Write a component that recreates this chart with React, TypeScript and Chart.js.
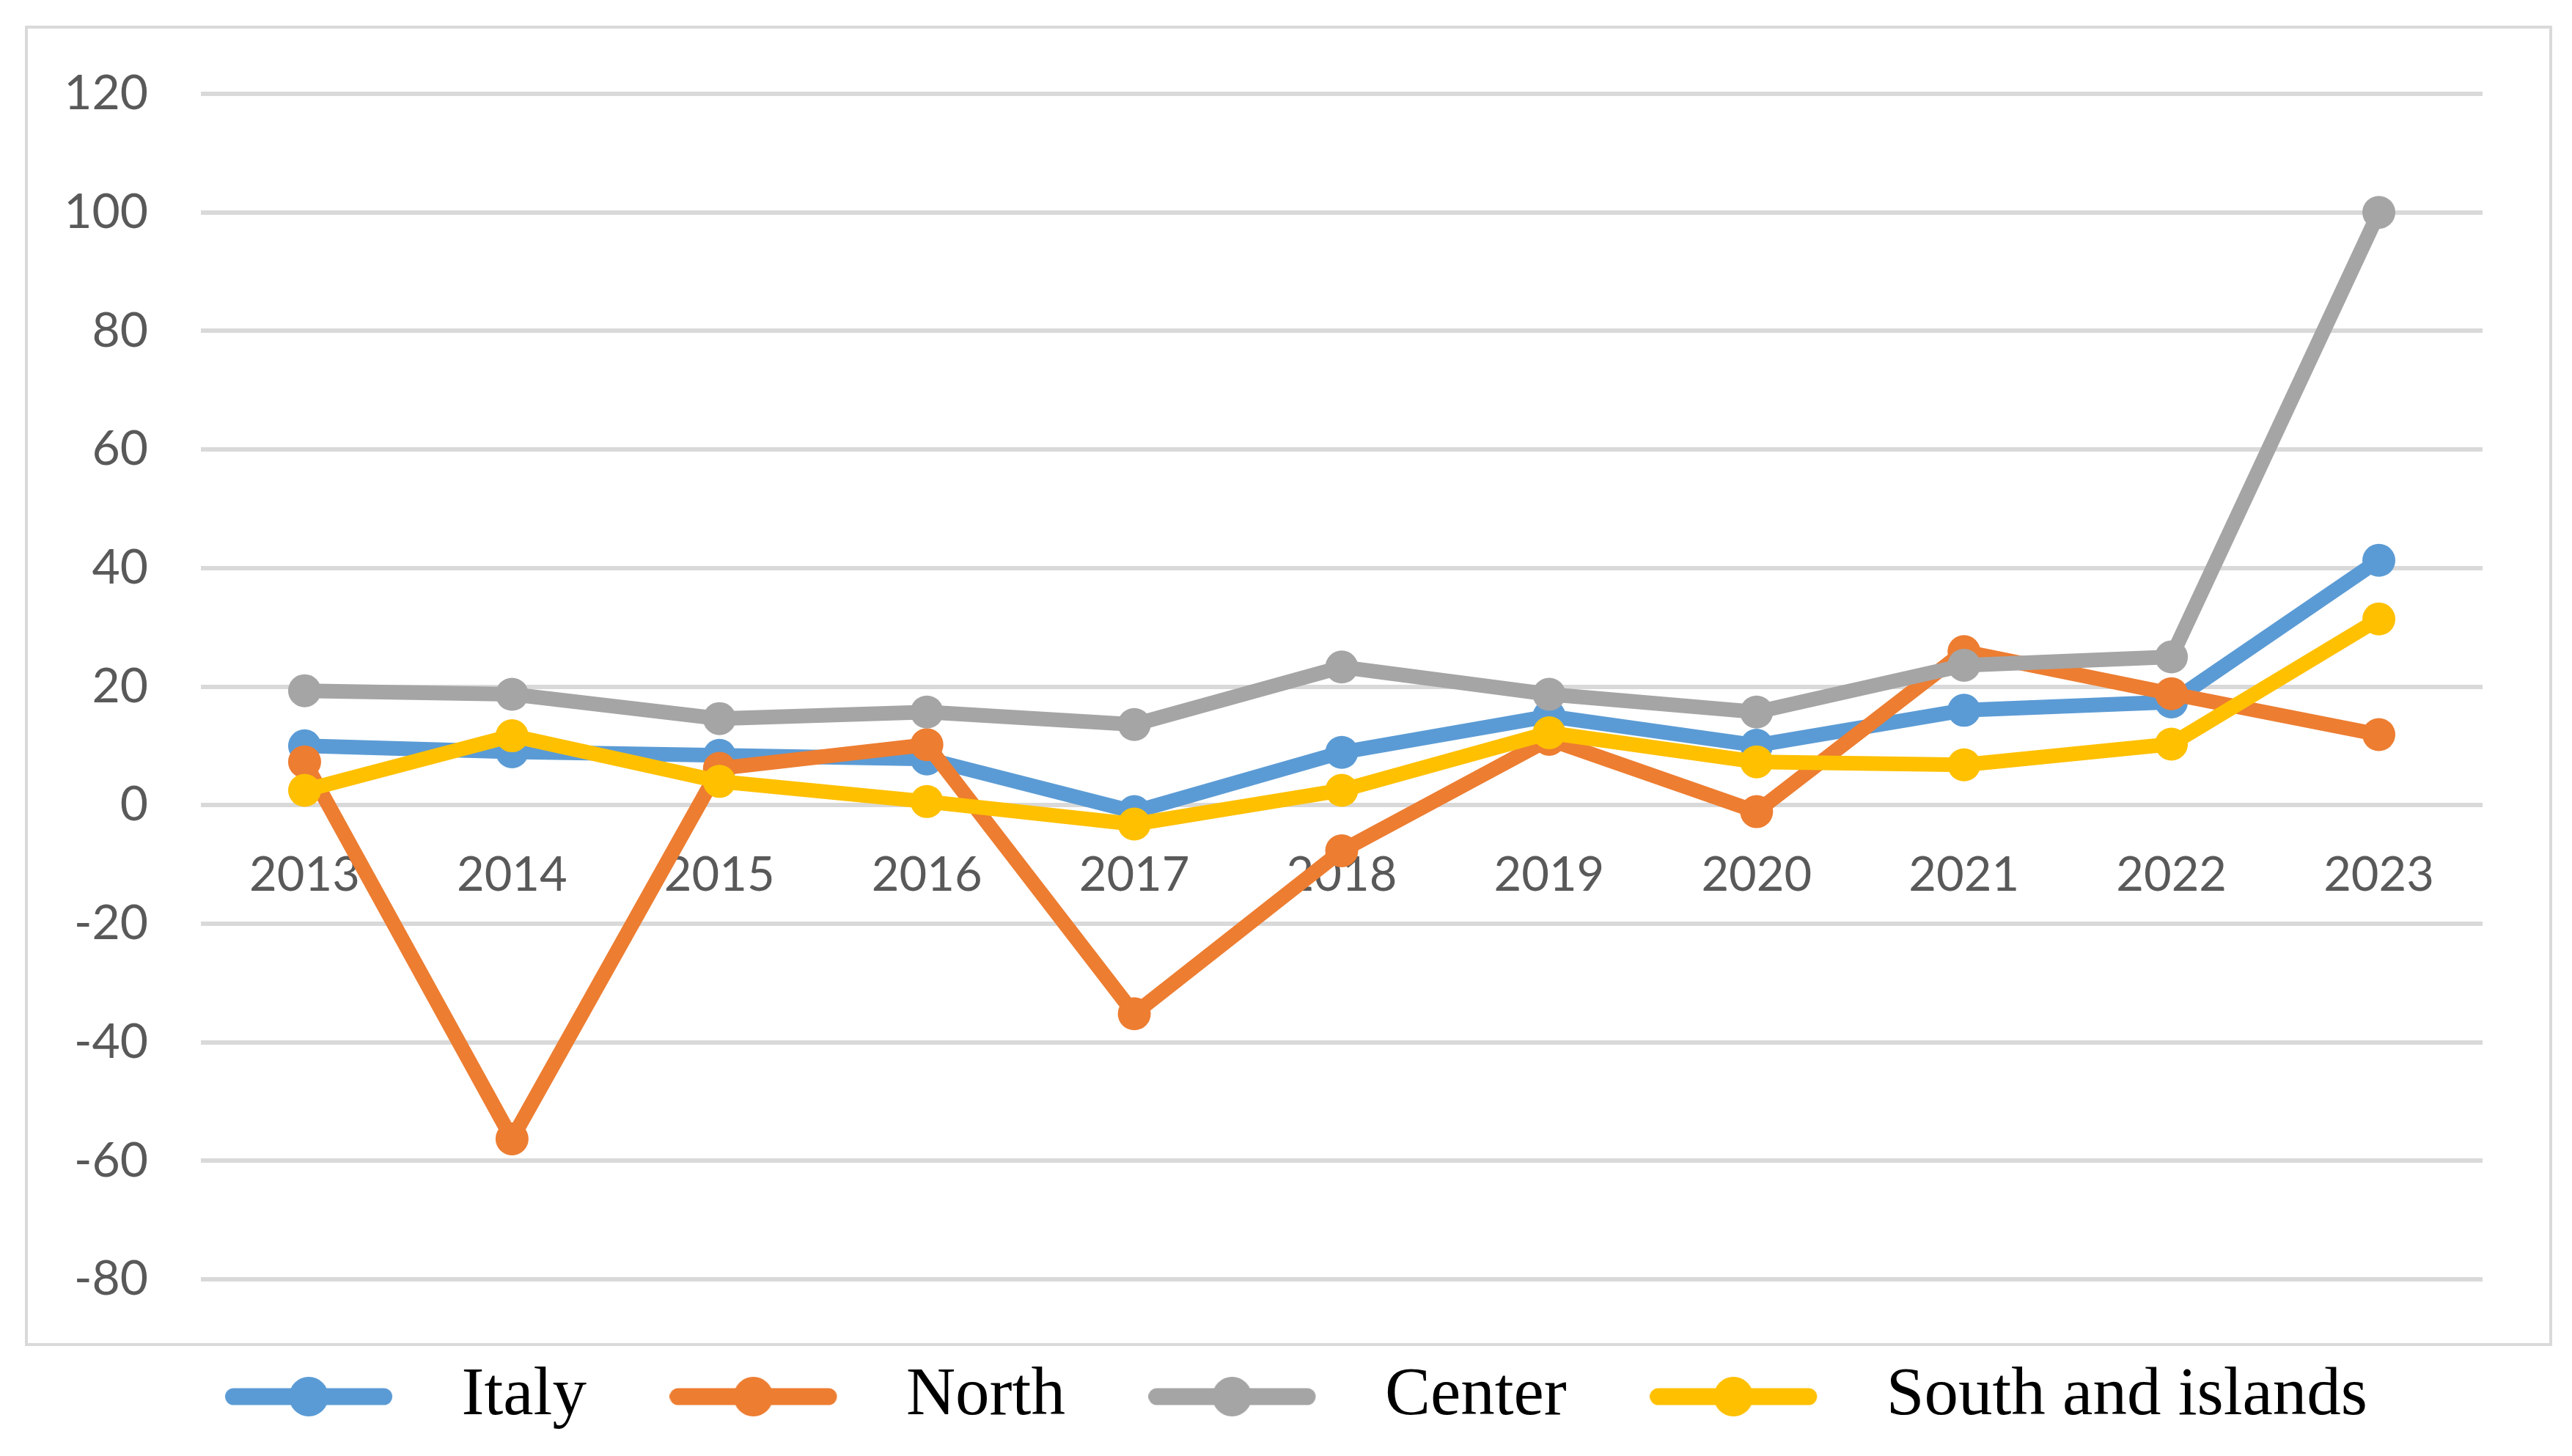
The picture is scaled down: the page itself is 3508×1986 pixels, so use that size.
import React, { useEffect, useRef } from 'react';
import { Chart, registerables } from 'chart.js';

Chart.register(...registerables);

const categories = ['2013', '2014', '2015', '2016', '2017', '2018', '2019', '2020', '2021', '2022', '2023'];
const italy = [10.0, 9.0, 8.4, 7.8, -1.1, 8.9, 15.0, 10.1, 16.0, 17.4, 41.3];
const north = [7.3, -56.3, 6.2, 10.2, -35.2, -7.7, 11.1, -1.1, 25.9, 18.8, 11.9];
const center = [19.3, 18.7, 14.6, 15.7, 13.6, 23.3, 18.7, 15.7, 23.6, 25.0, 100.0];
const south = [2.5, 11.7, 4.0, 0.6, -3.2, 2.5, 12.2, 7.3, 6.8, 10.3, 31.4];
const seriesNames = ['Italy', 'North', 'Center', 'South and islands'];
const seriesColors = ['#5B9BD5', '#ED7D31', '#A5A5A5', '#FFC000'];
const yMin = -80;
const yMax = 120;
const yStep = 20;

function makeLegendIcon(color: string): HTMLCanvasElement {
  const c = document.createElement('canvas');
  c.width = 276;
  c.height = 70;
  const ctx = c.getContext('2d') as CanvasRenderingContext2D;
  ctx.strokeStyle = color;
  ctx.lineWidth = 23;
  ctx.lineCap = 'round';
  ctx.beginPath();
  ctx.moveTo(11.5, 35);
  ctx.lineTo(216.5, 35);
  ctx.stroke();
  ctx.fillStyle = color;
  ctx.beginPath();
  ctx.arc(114, 35, 27, 0, Math.PI * 2);
  ctx.fill();
  return c;
}

const framePlugin = {
  id: 'frame',
  afterLayout(chart: any) {
    const lg = chart.legend;
    if (lg) {
      const right = lg.left + lg.width;
      lg.left = 150;
      lg.width = right - 150;
      lg.right = right;
    }
  },
  beforeDraw(chart: any) {
    const ctx = chart.ctx as CanvasRenderingContext2D;
    ctx.save();
    ctx.fillStyle = '#ffffff';
    ctx.fillRect(0, 0, chart.width, chart.height);
    ctx.strokeStyle = '#d9d9d9';
    ctx.lineWidth = 4;
    ctx.strokeRect(36, 37, 3443, 1797);
    ctx.restore();
  },
};

export default function App() {
  const ref = useRef<HTMLCanvasElement | null>(null);

  useEffect(() => {
    if (!ref.current) return;
    const seriesData = [italy, north, center, south];
    const icons = seriesColors.map((c) => makeLegendIcon(c));
    const chart = new Chart(ref.current, {
      type: 'line',
      data: {
        labels: categories,
        datasets: seriesData.map((d, i) => ({
          label: seriesNames[i],
          data: d,
          borderColor: seriesColors[i],
          backgroundColor: seriesColors[i],
          pointBackgroundColor: seriesColors[i],
          pointBorderColor: seriesColors[i],
          borderWidth: 20,
          pointRadius: 22.5,
          pointBorderWidth: 0,
          tension: 0,
          fill: false,
          order: 4 - i,
        })),
      },
      options: {
        animation: false,
        responsive: false,
        devicePixelRatio: 1,
        layout: { padding: { left: 40, right: 122, top: 128, bottom: 24.5 } },
        scales: {
          x: {
            type: 'category',
            offset: true,
            position: { y: 0 } as any,
            grid: { display: false, drawTicks: false },
            border: { display: false },
            ticks: {
              padding: 57,
              color: '#595959',
              font: { family: 'Lato', size: 65 },
              maxRotation: 0,
              autoSkip: false,
            },
          },
          y: {
            min: yMin,
            max: yMax,
            afterFit: (scale: any) => {
              scale.width = 234;
            },
            grid: { color: '#d9d9d9', lineWidth: 6, drawTicks: false },
            border: { display: false },
            ticks: {
              stepSize: yStep,
              padding: 72,
              color: '#595959',
              font: { family: 'Lato', size: 66 },
            },
          },
        },
        plugins: {
          tooltip: { enabled: false },
          legend: {
            position: 'bottom',
            align: 'center',
            labels: {
              usePointStyle: true,
              pointStyleWidth: 276,
              padding: 113.5,
              color: '#000000',
              font: { family: 'Liberation Serif', size: 93 },
              sort: (a: any, b: any) => a.datasetIndex - b.datasetIndex,
              generateLabels: (ch: any) => {
                const items = Chart.defaults.plugins.legend.labels.generateLabels(ch);
                return items.map((it: any) => ({
                  ...it,
                  pointStyle: icons[it.datasetIndex],
                  fontColor: '#000000',
                }));
              },
            },
          },
        },
      },
      plugins: [framePlugin],
    } as any);
    return () => chart.destroy();
  }, []);

  return (
    <div style={{ position: 'fixed', left: 0, top: 0, width: 3508, height: 1986, background: '#fff' }}>
      <canvas ref={ref} width={3508} height={1986} style={{ display: 'block' }} />
    </div>
  );
}
